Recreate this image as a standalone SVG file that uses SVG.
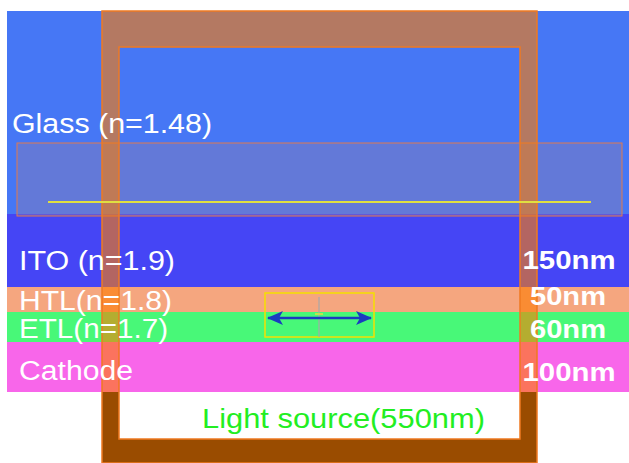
<svg xmlns="http://www.w3.org/2000/svg" width="629" height="463" viewBox="0 0 629 463">
<style>
.lbl{font-family:"Liberation Sans",Arial,sans-serif;font-size:27px;fill:#ffffff}
.thk{font-family:"Liberation Sans",Arial,sans-serif;font-size:26px;font-weight:bold;fill:#ffffff;text-anchor:middle}
.src{font-family:"Liberation Sans",Arial,sans-serif;font-size:28px;fill:#22ee22}
.fr{fill-rule:evenodd;stroke:#f07a20;stroke-width:1.5}
</style>
<defs>
<clipPath id="upper"><rect x="0" y="0" width="629" height="392"/></clipPath>
<clipPath id="lower"><rect x="0" y="392" width="629" height="71"/></clipPath>
<marker id="ah" viewBox="0 0 16 14" refX="15" refY="7" markerWidth="16" markerHeight="14" markerUnits="userSpaceOnUse" orient="auto-start-reverse">
<path d="M0 0 L16 7 L0 14 L4 7 Z" fill="#1a3cc0"/>
</marker>
</defs>
<rect width="629" height="463" fill="#ffffff"/>
<g id="glass">
<rect x="7" y="11" width="622" height="203" fill="#4677f5"/>
</g>
<g id="ito">
<rect x="7" y="214" width="622" height="73" fill="#4545f5"/>
</g>
<g id="htl">
<rect x="7" y="287" width="622" height="25" fill="#f5a67f"/>
</g>
<g id="etl">
<rect x="7" y="312" width="622" height="30" fill="#48f878"/>
</g>
<g id="cathode">
<rect x="7" y="342" width="622" height="50" fill="#f866ea"/>
</g>
<g id="glass-region">
<rect x="17" y="143" width="605" height="73" fill="#9c7da2" fill-opacity="0.35" stroke="#e07a50" stroke-width="1"/>
</g>
<g id="frame">
<path class="fr" clip-path="url(#lower)" d="M102 11 H537 V463 H102 Z M119 47 V439 H520 V47 Z" fill="#9a4c00"/>
<path class="fr" clip-path="url(#upper)" d="M102 11 H537 V463 H102 Z M119 47 V439 H520 V47 Z" fill="#fd7c00" fill-opacity="0.6"/>
</g>
<g id="layer-labels">
<text class="lbl" x="12" y="133" textLength="200" lengthAdjust="spacingAndGlyphs">Glass (n=1.48)</text>
<text class="lbl" x="19" y="270" textLength="156" lengthAdjust="spacingAndGlyphs">ITO (n=1.9)</text>
<text class="lbl" x="19" y="310" textLength="153" lengthAdjust="spacingAndGlyphs">HTL(n=1.8)</text>
<text class="lbl" x="19" y="338" textLength="149" lengthAdjust="spacingAndGlyphs">ETL(n=1.7)</text>
<text class="lbl" x="19" y="380" textLength="114" lengthAdjust="spacingAndGlyphs">Cathode</text>
</g>
<g id="thickness-labels">
<text class="thk" x="569" y="269" textLength="93" lengthAdjust="spacingAndGlyphs">150nm</text>
<text class="thk" x="568" y="305" textLength="76" lengthAdjust="spacingAndGlyphs">50nm</text>
<text class="thk" x="568" y="338" textLength="76" lengthAdjust="spacingAndGlyphs">60nm</text>
<text class="thk" x="569" y="381" textLength="93" lengthAdjust="spacingAndGlyphs">100nm</text>
</g>
<g id="light-source">
<text class="src" x="202" y="428" textLength="283" lengthAdjust="spacingAndGlyphs">Light source(550nm)</text>
</g>
<g id="monitor-line">
<line x1="48" y1="202" x2="591" y2="202" stroke="#e0e040" stroke-width="2"/>
</g>
<g id="dipole">
<rect x="265" y="293" width="109" height="44" fill="none" stroke="#f5e000" stroke-width="1.5"/>
<line x1="319" y1="297" x2="319" y2="337" stroke="#a8a8a8" stroke-width="1.2"/>
<line x1="315" y1="314" x2="323" y2="314" stroke="#e0e040" stroke-width="1.5"/>
</g>
<g id="connectors">
<line x1="268" y1="318" x2="371" y2="318" stroke="#1a3cc0" stroke-width="2.5" marker-start="url(#ah)" marker-end="url(#ah)"/>
</g>
</svg>
